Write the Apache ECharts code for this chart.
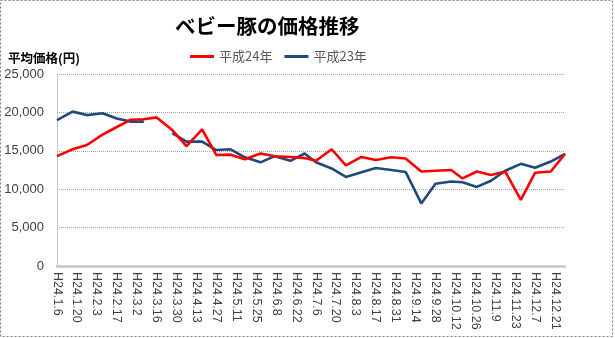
<!DOCTYPE html>
<html>
<head>
<meta charset="utf-8">
<script src="https://cdn.jsdelivr.net/npm/echarts@6/dist/echarts.min.js"></script>
<style>
html,body{margin:0;padding:0;background:#fff;}
#chart{width:615px;height:338px;}
</style>
</head>
<body>
<div id="chart"></div>
<script>
// Market dates (H24 = 2012), month/day
const dates = ['1/6','1/17','1/27','2/7','2/17','2/27','3/7','3/16','3/27','4/6','4/17','4/27',
  '5/7','5/17','5/28','6/7','6/18','6/28','7/6','7/17','7/27','8/7','8/17','8/28',
  '9/7','9/18','9/28','10/9','10/17','10/27','11/6','11/16','11/27','12/7','12/18','12/28'];
// 平成24年 average price (yen)
const h24 = [14300,15200,15750,17100,18100,19050,19100,19350,17700,15600,17800,14450,
  14500,13900,14650,14300,14200,14050,13700,15200,13100,14200,13800,14150,
  14000,12300,12400,12500,11400,12300,11850,12300,8600,12150,12300,14600];
// 平成23年 average price (yen), null = no data
const h23 = [19000,20100,19650,19880,19200,18800,18800,null,17300,16200,16200,15100,
  15200,14150,13500,14300,13700,14650,13500,12700,11600,12200,12750,12500,
  12250,8150,10700,11000,10900,10300,11100,12400,13300,12800,13600,14600];
const seriesNames = ['平成24年','平成23年'];
const yTicks = [0,5000,10000,15000,20000,25000];

const YEAR = 2012, ERA = 'H24';
const base = Date.UTC(YEAR,0,6);
function dayOffset(md){
  const [m,d] = md.split('/').map(Number);
  return Math.round((Date.UTC(YEAR,m-1,d)-base)/86400000);
}
const xs = dates.map(dayOffset);
const endDay = dayOffset('12/28');

function toData(arr){ return arr.map((v,i)=>[xs[i], v==null?'-':v]); }

const chart = echarts.init(document.getElementById('chart'));
chart.setOption({
  animation:false,
  backgroundColor:'#ffffff',
  title:[{
    text:'ベビー豚の価格推移',
    left:170, top:11,
    textStyle:{fontFamily:'Noto Sans CJK JP',fontSize:20.5,fontWeight:'bold',color:'#000'}
  },{
    text:'平均価格(円)',
    left:3, top:47,
    textStyle:{fontFamily:'Noto Sans CJK JP',fontSize:12.5,fontWeight:'bold',color:'#000'}
  }],
  legend:{
    data:seriesNames,
    left:185, top:45,
    icon:'rect', itemWidth:24, itemHeight:3, itemGap:12,
    textStyle:{fontFamily:'Noto Sans CJK JP',fontSize:13,color:'#595959'}
  },
  grid:{left:57,right:50,top:74,bottom:72,containLabel:false},
  xAxis:{
    type:'value', min:0, max:endDay, interval:14,
    axisLine:{show:true,onZero:false,lineStyle:{color:'#c6c6c6',width:2.5}},
    axisTick:{show:false},
    splitLine:{show:false},
    axisLabel:{
      rotate:-90, margin:6, showMaxLabel:false,
      fontFamily:'Liberation Sans', fontSize:12.5, color:'#404040',
      formatter:function(v){
        if (v % 14 !== 0) return '';
        const dt = new Date(base + v*86400000);
        return ERA + '.' + (dt.getUTCMonth()+1) + '.' + dt.getUTCDate();
      }
    }
  },
  yAxis:{
    type:'value', min:yTicks[0], max:yTicks[yTicks.length-1], interval:5000,
    axisLine:{show:true,lineStyle:{color:'#c6c6c6',width:1}},
    axisTick:{show:false},
    splitLine:{show:true,lineStyle:{color:'#a6a6a6',type:[1,1],width:1}},
    axisLabel:{
      margin:13, fontFamily:'Liberation Sans', fontSize:13, color:'#404040',
      formatter:function(v){ return v.toLocaleString('en-US'); }
    }
  },
  series:[{
    name:seriesNames[0], type:'line', data:toData(h24),
    symbol:'none', lineStyle:{color:'#ff0000',width:2.6}, itemStyle:{color:'#ff0000'}, z:3
  },{
    name:seriesNames[1], type:'line', data:toData(h23), connectNulls:false,
    symbol:'none', lineStyle:{color:'#1f497d',width:2.6}, itemStyle:{color:'#1f497d'}, z:2
  }],
  graphic:{elements:[{
    type:'rect', silent:true, z:100,
    shape:{x:0.5,y:0.5,width:612,height:336},
    style:{fill:null,stroke:'#808080',lineWidth:1,lineDash:[2,2]}
  }]}
});
</script>
</body>
</html>
